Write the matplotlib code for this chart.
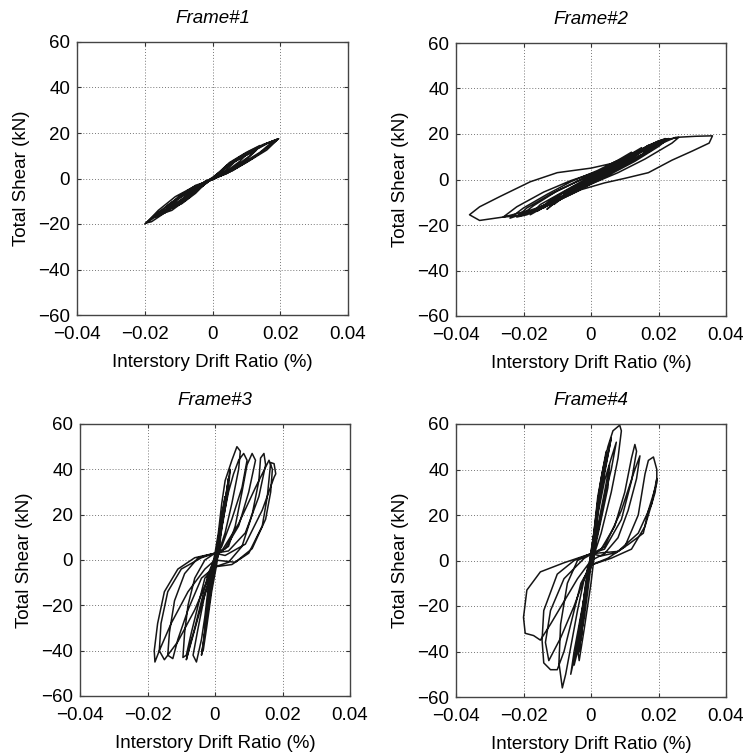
import matplotlib.pyplot as plt
import numpy as np

plt.rcParams['font.family'] = ['Liberation Sans', 'DejaVu Sans']

titles = ["Frame#1", "Frame#2", "Frame#3", "Frame#4"]
x_ticks = [-0.04, -0.02, 0, 0.02, 0.04]
x_tick_labels = ["\u22120.04", "\u22120.02", "0", "0.02", "0.04"]
y_ticks = [-60, -40, -20, 0, 20, 40, 60]
y_tick_labels = ["\u221260", "\u221240", "\u221220", "0", "20", "40", "60"]

# hysteresis traces: (drift ratio, total shear kN)
frame1_drift = [0, 0.004, 0.007, 0.005, 0.002, 0, -0.004, -0.007, -0.005, -0.002, 0,
                0.004, 0.008, 0.011, 0.008, 0.004, 0, -0.004, -0.008, -0.012, -0.009, -0.005, -0.002, 0,
                0.005, 0.01, 0.014, 0.011, 0.006, 0, -0.005, -0.01, -0.015, -0.012, -0.007, -0.003, 0,
                0.005, 0.01, 0.016, 0.0195, 0.017, 0.012, 0.006, 0, -0.006, -0.011, -0.016, -0.0195,
                -0.018, -0.013, -0.008, -0.003, 0,
                0.006, 0.012, 0.017, 0.0195, 0.016, 0.01, 0.004, 0, -0.006, -0.012, -0.017, -0.02,
                -0.016, -0.01, -0.004, 0,
                0.005, 0.009, 0.013, 0.009, 0.004, 0, -0.005, -0.01, -0.014, -0.01, -0.005, 0,
                0.006, 0.011, 0.015, 0.018, 0.014, 0.008, 0.003, -0.003, -0.009, -0.013, -0.017,
                -0.014, -0.009, -0.004, 0]
frame1_shear = [0, 5, 8, 5, 1.5, 0, -4.5, -8, -4.5, -1, 0,
                5.5, 9.5, 12, 7.5, 3, 0, -3, -8, -13, -11, -6.5, -2, 0,
                7, 11.5, 14.5, 10, 4.5, -0.5, -3, -8, -15.5, -14, -8.5, -3, 0,
                6.5, 10.5, 15.5, 17.5, 14.5, 9, 3.5, -0.5, -4, -8, -14, -19.5,
                -19, -14, -8.5, -2.5, 0.5,
                7, 12, 16, 17.5, 12.5, 7, 2, 0, -5, -10.5, -16, -20,
                -16, -10, -4, 0,
                6, 9.5, 12.5, 7, 2.5, 0, -4, -9, -14, -11, -5.5, 0,
                7.5, 12, 15, 16.5, 11.5, 6, 1.5, -2, -7, -11.5, -17,
                -15, -10, -4.5, 0]

frame2_drift = [0, 0.004, 0.008, 0.006, 0.002, 0, -0.004, -0.008, -0.006, -0.002, 0,
                0.005, 0.01, 0.013, 0.01, 0.005, 0, -0.005, -0.01, -0.014, -0.011, -0.006, 0,
                0.006, 0.012, 0.017, 0.014, 0.008, 0.002, -0.004, -0.01, -0.015, -0.018, -0.015, -0.009, -0.003, 0.002,
                0.008, 0.014, 0.02, 0.023, 0.02, 0.013, 0.006, 0, -0.006, -0.013, -0.019, -0.022, -0.019, -0.012, -0.005, 0.001,
                0.008, 0.015, 0.022, 0.026, 0.024, 0.016, 0.008, 0, -0.008, -0.015, -0.022, -0.026, -0.022, -0.014, -0.006, 0.002,
                0.01, 0.018, 0.025, 0.031, 0.036, 0.035, 0.03, 0.024, 0.017, 0.01, 0.004, -0.003, -0.01, -0.018,
                -0.026, -0.033, -0.036, -0.033, -0.027, -0.018, -0.01, 0, 0.006,
                0.012, 0.018, 0.021, 0.017, 0.01, 0.003, -0.004, -0.011, -0.017, -0.021, -0.017, -0.01, -0.003, 0.003,
                0.009, 0.015, 0.019, 0.015, 0.008, 0.002, -0.005, -0.012, -0.016, -0.012, -0.005, 0,
                0.006, 0.011, 0.015, 0.011, 0.005, 0, -0.006, -0.011, -0.013, -0.009, -0.004, 0.001,
                0.007, 0.013, 0.017, 0.022, 0.018, 0.011, 0.004, -0.003, -0.01, -0.016, -0.024,
                -0.02, -0.013, -0.006, 0.002, 0.008, 0.012, 0.008, 0.003, -0.002, -0.007, -0.011, -0.007, 0]
frame2_shear = [0, 3, 6, 4, 1, -0.5, -3.5, -7, -4.5, -1, 0.5,
                4, 8, 10.5, 7, 3, -1, -5, -9, -12.5, -8.5, -4, 1,
                5.5, 10.5, 15, 11, 5.5, 0.5, -4, -9, -13, -15.5, -11, -6, -1, 2.5,
                8, 12.5, 17, 18, 14.5, 8, 2.5, -2, -6.5, -11.5, -15.5, -16.5, -12.5, -6.5, -1.5, 2.5,
                7.5, 12.5, 17.5, 18.5, 16, 9, 3, -2, -7.5, -12.5, -16, -16.5, -12, -5.5, -0.5, 3.5,
                9, 14, 18.5, 19, 19.2, 16, 12.5, 8.5, 3, 0.5, -1.5, -4.5, -9.5, -13.5,
                -16.5, -18, -15.5, -12, -7.5, -1, 3, 5, 7,
                11, 15.5, 17, 12.5, 6.5, 1, -4, -9, -13.5, -16, -11.5, -5, 0, 4,
                8.5, 13, 16, 11, 5, 0, -5, -10.5, -14, -9, -3, 0,
                6.5, 10.5, 14, 9, 3.5, -0.5, -6, -10.5, -13, -8, -2.5, 2,
                7, 11.5, 15, 18, 13, 7, 1.5, -3.5, -8.5, -13, -17,
                -12.5, -6.5, -1, 4, 8.5, 12, 7, 2, -2, -6.5, -11, -5.5, 0]

frame3_drift = [0, 0.001, 0.002, 0.003, 0.002, 0.001, 0, -0.001, -0.002, -0.003, -0.002, -0.001, 0,
                0.001, 0.002, 0.003, 0.005, 0.0065, 0.0075, 0.007, 0.005, 0.003, 0.001, -0.001, -0.002,
                -0.003, -0.004, -0.0055, -0.0065, -0.005, -0.003, -0.001, 0.001,
                0.004, 0.006, 0.008, 0.0095, 0.011, 0.012, 0.01, 0.007, 0.003, 0, -0.003, -0.006,
                -0.008, -0.009, -0.0095, -0.0085, -0.007, -0.005, -0.003, 0,
                0.004, 0.008, 0.011, 0.013, 0.0135, 0.0145, 0.015, 0.013, 0.009, 0.004, 0, -0.005,
                -0.009, -0.012, -0.0135, -0.014, -0.0125, -0.011, -0.008, -0.004, 0,
                0.005, 0.01, 0.014, 0.0155, 0.0165, 0.0175, 0.018, 0.0175, 0.014, 0.009, 0.003, 0,
                -0.006, -0.011, -0.015, -0.017, -0.018, -0.0178, -0.0165, -0.013, -0.008, -0.003, 0,
                0.002, 0.004, 0.0055, 0.007, 0.0085, 0.0095, 0.008, 0.005, 0.002, 0, -0.002, -0.004,
                -0.006, -0.0075, -0.0085, -0.007, -0.004, -0.001, 0.001,
                0.002, 0.003, 0.004, 0.0035, 0.002, 0.0005, -0.001, -0.002, -0.003, -0.0035, -0.0025,
                -0.001, 0.0005, 0.0015, 0.0025, 0.0045, 0.004, 0.0025, 0.001, -0.0005, -0.0015,
                -0.0025, -0.004, -0.003, -0.0015, 0,
                0.006, 0.011, 0.015, 0.0165, 0.017, 0.016, 0.012, 0.007, 0.002, -0.004, -0.01,
                -0.014, -0.016, -0.0165, -0.015, -0.011, -0.006, -0.002, 0]
frame3_shear = [0, 10, 20, 28, 18, 6, -2, -12, -22, -28, -16, -4, 3,
                12, 25, 35, 44, 50, 48, 40, 25, 12, 3, -3, -12,
                -25, -35, -45, -42, -30, -15, -4, 3,
                6, 15, 30, 42, 47, 44, 30, 15, 5, 3, 0, -8,
                -20, -32, -43, -42, -32, -20, -8, -3,
                -1, 6, 20, 35, 45, 47, 42, 28, 12, 4, 3, 1,
                -6, -18, -32, -42, -43.5, -35, -22, -8, -3,
                -2, 3, 15, 28, 43, 42.5, 38, 36.5, 22, 7, 2, 3,
                1, -4, -14, -28, -40, -45, -40, -28, -14, -4, 0,
                15, 30, 38, 44, 47, 44, 32, 18, 6, 1, -6, -18,
                -30, -38, -44, -36, -20, -6, 2,
                14, 26, 36, 30, 15, 4, -6, -18, -30, -40, -30,
                -14, -2, 10, 22, 40, 32, 18, 6, -4, -14,
                -26, -42, -32, -16, 0,
                -1, 5, 18, 30, 40, 44, 32, 16, 4, 1, -4,
                -14, -28, -40, -44, -36, -22, -8, 0]

frame4_drift = [0, 0.001, 0.002, 0.003, 0.002, 0.001, 0, -0.001, -0.002, -0.003, -0.002, -0.001, 0,
                0.001, 0.002, 0.0035, 0.005, 0.0065, 0.0085, 0.009, 0.008, 0.006, 0.003, 0.001, -0.001,
                -0.002, -0.003, -0.004, -0.005, -0.0045, -0.003, -0.001, 0.001,
                0.003, 0.007, 0.01, 0.012, 0.013, 0.0135, 0.012, 0.009, 0.004, 0, -0.004, -0.007,
                -0.009, -0.0095, -0.0085, -0.0075, -0.006, -0.004, -0.002, 0,
                0.005, 0.01, 0.014, 0.016, 0.017, 0.0185, 0.0195, 0.0195, 0.017, 0.0155, 0.011, 0.0075,
                0.003, 0, -0.005, -0.01, -0.014, -0.0145, -0.014, -0.012, -0.01, -0.008, -0.006, -0.003, 0,
                0.006, 0.012, 0.016, 0.019, 0.0195, 0.018, 0.014, 0.008, 0, -0.008, -0.015, -0.019,
                -0.02, -0.0195, -0.017, -0.015, -0.012, -0.008, -0.004, 0,
                0.002, 0.004, 0.006, 0.0075, 0.006, 0.004, 0.002, 0, -0.002, -0.003, -0.004,
                -0.0035, -0.002, 0, 0.002, 0.004, 0.0055, 0.005, 0.003, 0.001, -0.001, -0.002, -0.003, -0.002, 0,
                0.001, 0.002, 0.003, 0.0045, 0.004, 0.0025, 0.001, -0.0005, -0.0015, -0.0025, -0.0035,
                -0.003, -0.0015, 0, 0.0015, 0.003, 0.0055, 0.006, 0.0045, 0.002, 0, -0.0015, -0.003,
                -0.0045, -0.006, -0.005, -0.0025, 0,
                0.004, 0.008, 0.011, 0.0135, 0.0145, 0.013, 0.009, 0.004, -0.002, -0.008, -0.012,
                -0.0135, -0.0125, -0.009, -0.005, -0.002, 0]
frame4_shear = [0, 12, 24, 33, 20, 8, -2, -14, -25, -33, -20, -8, 3,
                14, 28, 40, 50, 57, 59.5, 57, 45, 30, 12, 3, -3,
                -15, -28, -40, -46, -40, -25, -8, 3,
                5, 15, 30, 45, 51, 48, 35, 18, 5, 3, 0, -10,
                -28, -45, -56, -50, -38, -22, -8, -2,
                1, 6, 20, 38, 44, 45.5, 40, 34, 22, 12, 7, 3.5,
                2, 3, 0, -6, -22, -35, -45, -48, -48, -40, -28, -10, -2,
                1, 5, 15, 30, 36, 25, 12, 4, 3, -1, -5, -13,
                -25, -32, -33, -35, -28, -18, -8, 0,
                20, 35, 45, 52, 40, 28, 12, 2, -15, -28, -38,
                -44, -30, -10, 15, 30, 42, 32, 18, 4, -8, -22, -35, -20, 0,
                14, 26, 36, 48, 40, 26, 12, -4, -16, -28, -40,
                -30, -14, 2, 18, 32, 50, 54, 42, 22, 4, -12, -26,
                -40, -50, -40, -20, 0,
                3, 10, 22, 36, 46, 40, 22, 6, 1, -8, -22,
                -36, -44, -34, -20, -8, 0]

drifts = [frame1_drift, frame2_drift, frame3_drift, frame4_drift]
shears = [frame1_shear, frame2_shear, frame3_shear, frame4_shear]

W, H = 743, 753
# axes boxes in pixels: left, top, right, bottom
boxes = [(77, 42, 348, 315), (456, 43, 726, 316),
         (80, 424, 350, 696), (456, 424, 726, 697)]

fs = 13.5
fig = plt.figure(figsize=(W / 100, H / 100), dpi=100)
for i in range(4):
    l, t, r, b = boxes[i]
    ax = fig.add_axes([l / W, 1 - b / H, (r - l) / W, (b - t) / H])
    ax.plot(drifts[i], shears[i], color='#151515', lw=1.1)
    ax.set_xlim(-0.04, 0.04)
    ax.set_ylim(-60, 60)
    ax.set_xticks(x_ticks, x_tick_labels)
    ax.set_yticks(y_ticks, y_tick_labels)
    ax.grid(True, color='#777777', linestyle=(0, (1, 2)), lw=0.7)
    ax.tick_params(direction='in', top=True, right=True, length=3,
                   labelsize=fs, color='#333333')
    ax.tick_params(axis='x', pad=8)
    ax.tick_params(axis='y', pad=5)
    for s in ax.spines.values():
        s.set_color('#444444')
        s.set_linewidth(1.0)
    ax.set_title(titles[i], fontsize=fs, style='italic', pad=14)
    ax.set_xlabel("Interstory Drift Ratio (%)", fontsize=fs, labelpad=8)
    ax.set_ylabel("Total Shear (kN)", fontsize=fs, labelpad=6)

fig.savefig("out.png", dpi=100)
